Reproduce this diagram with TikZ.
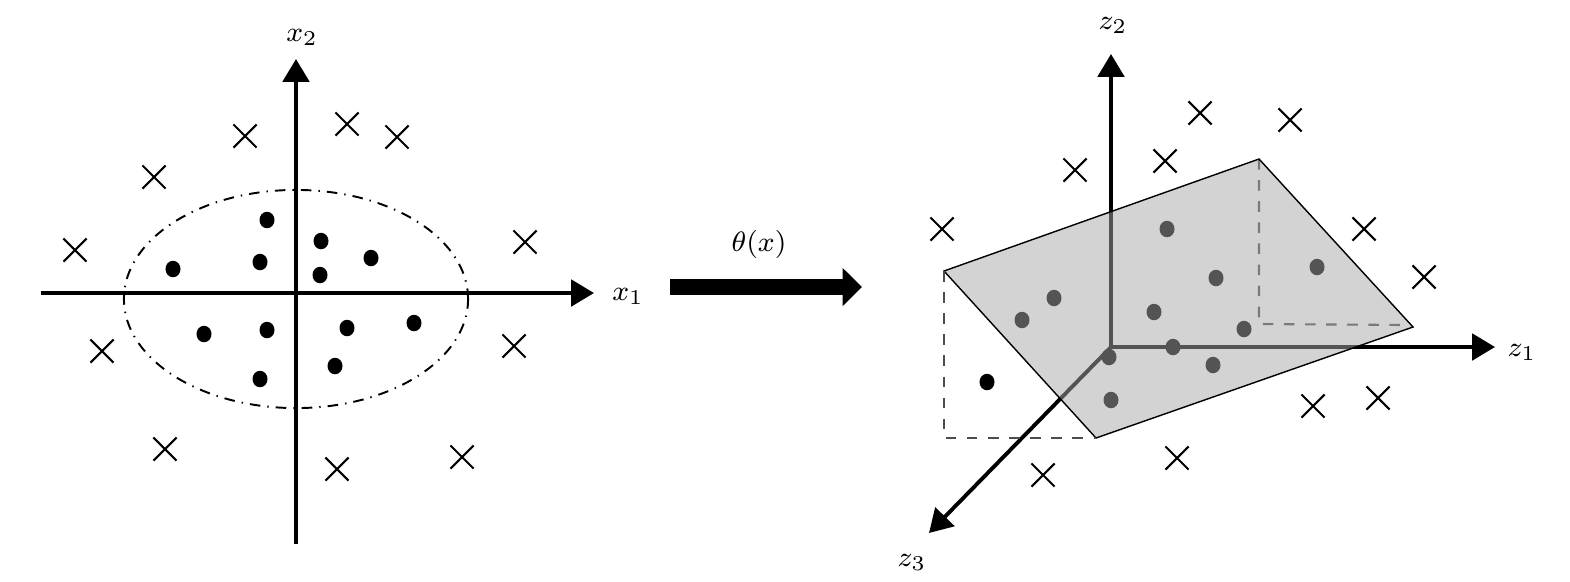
\documentclass[tikz,border=0pt]{standalone}
\usetikzlibrary{arrows.meta,shapes.geometric,shapes.misc}

\begin{document}
\begin{tikzpicture}[
        x=0.01cm, y=-0.01cm,
        font=\footnotesize,
        axis/.style={line width=1.1pt, -{Triangle[length=6.5pt,width=7.5pt]}},
        dot/.style={ellipse, fill=black, inner sep=0pt, minimum width=0.15cm, minimum height=0.165cm},
        xmark/.style={cross out, draw, line width=0.6pt, inner sep=0pt, minimum size=0.21cm},
        plane/.style={draw=black, line width=0.4pt, fill=black!34, fill opacity=0.5},
        proj/.style={dashed, black!70, line width=0.6pt},
        maparrow/.style={line width=4.8pt, -{Triangle[length=5.5pt,width=10.5pt]}}
        ]
        \useasboundingbox (0,0) rectangle (1570,581);

        % --- Left: input space ---
        \coordinate (xl) at (41,293);
        \coordinate (xr) at (594,293);
        \coordinate (yb) at (296,544);
        \coordinate (yt) at (296,59);
        \draw[axis] (xl) -- (xr);
        \draw[axis] (yb) -- (yt);
        \node (xone) at (628,296) {$x_1$};
        \node (xtwo) at (302,37) {$x_2$};

        \node[draw, ellipse, dash dot, line width=0.55pt, inner sep=0pt,
              minimum width=3.44cm, minimum height=2.18cm] (region) at (296,299) {};

        % inner class
        \node[dot] (a1) at (267,220) {};
        \node[dot] (a2) at (321,241) {};
        \node[dot] (a3) at (260,262) {};
        \node[dot] (a4) at (173,269) {};
        \node[dot] (a5) at (371,258) {};
        \node[dot] (a6) at (320,275) {};
        \node[dot] (a7) at (204,334) {};
        \node[dot] (a8) at (267,330) {};
        \node[dot] (a9) at (347,328) {};
        \node[dot] (a10) at (414,323) {};
        \node[dot] (a11) at (335,366) {};
        \node[dot] (a12) at (260,379) {};

        % outer class
        \node[xmark] (b1) at (245,136) {};
        \node[xmark] (b2) at (347,124) {};
        \node[xmark] (b3) at (397,137) {};
        \node[xmark] (b4) at (154,177) {};
        \node[xmark] (b5) at (75,250) {};
        \node[xmark] (b6) at (525,242) {};
        \node[xmark] (b7) at (102,351) {};
        \node[xmark] (b8) at (514,346) {};
        \node[xmark] (b9) at (165,449) {};
        \node[xmark] (b10) at (337,469) {};
        \node[xmark] (b11) at (462,457) {};

        % --- Middle: mapping ---
        \coordinate (mapstart) at (670,287);
        \coordinate (mapend) at (862,287);
        \draw[maparrow] (mapstart) -- (mapend);
        \node (maplabel) at (759,244) {$\theta(x)$};

        % --- Right: feature space ---
        \coordinate (O) at (1111,347);
        \coordinate (zr) at (1495,347);
        \coordinate (zt) at (1111,54);
        \coordinate (zd) at (929,533);
        \draw[axis] ([yshift=-0.55pt]O) -- (zt);
        \draw[axis] ([xshift=-0.55pt]O) -- (zr);
        \draw[axis] (O) -- (zd);
        \node (zone) at (1522,352) {$z_1$};
        \node (ztwo) at (1113,25) {$z_2$};
        \node (zthree) at (912,562) {$z_3$};

        % points lying on the plane
        \node[dot] (c1) at (1167,229) {};
        \node[dot] (c2) at (1054,298) {};
        \node[dot] (c3) at (1022,320) {};
        \node[dot] (c4) at (1216,278) {};
        \node[dot] (c5) at (1317,267) {};
        \node[dot] (c6) at (1154,312) {};
        \node[dot] (c7) at (1244,329) {};
        \node[dot] (c8) at (1173,347) {};
        \node[dot] (c9) at (1109,357) {};
        \node[dot] (c10) at (1213,365) {};
        \node[dot] (c11) at (1111,400) {};

        % separating plane
        \coordinate (pa) at (944,271);
        \coordinate (pb) at (1259,159);
        \coordinate (pc) at (1413,327);
        \coordinate (pd) at (1096,438);
        \coordinate (qa) at (944,438);
        \coordinate (qb) at (1259,324);
        \coordinate (qc) at (1407,325);
        \draw[proj] (pb) -- (qb) -- (qc);
        \draw[plane] (pa) -- (pb) -- (pc) -- (pd) -- cycle;
        \draw[proj] (pa) -- (qa) -- (pd);

        \node[dot] (c12) at (987,382) {};

        \node[xmark] (d1) at (1200,113) {};
        \node[xmark] (d2) at (1290,120) {};
        \node[xmark] (d3) at (1075,170) {};
        \node[xmark] (d4) at (1165,161) {};
        \node[xmark] (d5) at (942,229) {};
        \node[xmark] (d6) at (1364,229) {};
        \node[xmark] (d7) at (1424,277) {};
        \node[xmark] (d8) at (1313,406) {};
        \node[xmark] (d9) at (1378,398) {};
        \node[xmark] (d10) at (1043,475) {};
        \node[xmark] (d11) at (1177,458) {};

    \end{tikzpicture}
\end{document}
